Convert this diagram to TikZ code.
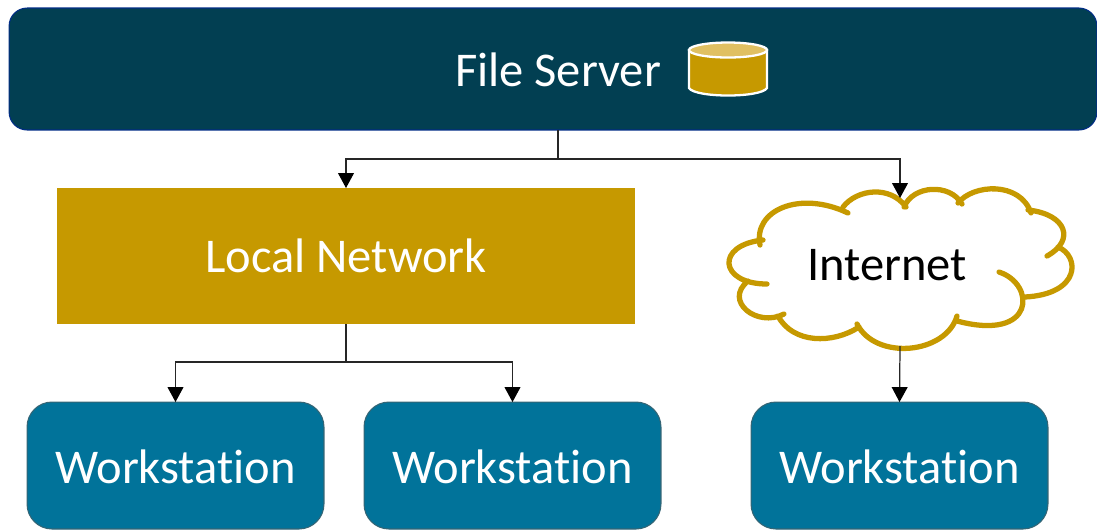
\documentclass[tikz,border=0pt]{standalone}
\usepackage{xcolor}
\usepackage{fontspec}
\setmainfont[RawFeature={-liga;-clig;-dlig}]{Carlito}
\usetikzlibrary{arrows.meta}
\definecolor{serverblue}{HTML}{023F52}
\definecolor{netgold}{HTML}{C69900}
\definecolor{lightgold}{HTML}{E0C062}
\definecolor{stationblue}{HTML}{01739A}
\begin{document}
\begin{tikzpicture}[x=0.02cm, y=-0.02cm]
      \tikzstyle{label} = [font=\fontsize{27.6}{30}\selectfont, inner sep=0pt]
      \tikzstyle{server} = [rectangle, rounded corners=0.36cm, draw=serverblue!70!blue, fill=serverblue, line width=0.6pt, minimum width=21.76cm, minimum height=2.44cm, outer sep=0pt]
      \tikzstyle{network} = [rectangle, fill=netgold, text=white, font=\fontsize{27.6}{30}\selectfont, minimum width=11.56cm, minimum height=2.72cm, outer sep=0pt]
      \tikzstyle{station} = [rectangle, rounded corners=0.5cm, draw=serverblue!80, fill=stationblue, text=white, font=\fontsize{27.6}{30}\selectfont, text height=21pt, line width=0.6pt, minimum width=5.94cm, minimum height=2.54cm, outer sep=0pt]
      \tikzstyle{edge} = [-{Triangle[length=8.5pt, width=9pt, black]}, line width=0.7pt, black!85]
      \useasboundingbox (0,0) rectangle (1097,529);
      \node[server] (server) at (553,69) {};
      \node[label, text=white] (servertext) at (558,70) {File Server};
      \node[network] (local) at (346,256) {Local Network};
      \node[station] (station1) at (175.5,465.5) {Workstation};
      \node[station] (station2) at (512.5,465.5) {Workstation};
      \node[station] (station3) at (899.5,465.5) {Workstation};
      % disk icon
      \draw[fill=netgold, draw=white, line width=1.3pt] (689,50) -- (689,88) .. controls (695,98) and (761,98) .. (767,88) -- (767,50) -- cycle;
      \draw[fill=lightgold, draw=white, line width=1.3pt] (728,50) ellipse [x radius=39, y radius=7.5];
      % cloud
      \draw[netgold, line width=3pt, line cap=round]
        (760,245) .. controls (753,210) and (800,190) .. (848,213)
        (843,207) .. controls (857,189) and (890,185) .. (906,207)
        (904,207) .. controls (913,185) and (950,183) .. (962,204)
        (958,203) .. controls (973,184) and (1020,181) .. (1031,213)
        (1028,210) .. controls (1066,214) and (1076,240) .. (1047,256)
        (1058,247) .. controls (1080,256) and (1081,294) .. (1025,297)
        (999,272) .. controls (1036,284) and (1036,342) .. (957,321)
        (957,316) .. controls (946,354) and (876,361) .. (857,324)
        (859,327) .. controls (833,344) and (793,344) .. (778,316)
        (784,314) .. controls (757,328) and (723,301) .. (748,281)
        (767,284) .. controls (719,284) and (715,245) .. (763,240);
      \node[label] (internet) at (887,265) {Internet};
      \coordinate (cloudtop) at (900,198);
      \coordinate (cloudbottom) at (900,346);
      \coordinate (serversplit) at (servertext |- 0,159);
      \coordinate (localsplit) at (346,362);
      \draw[line width=0.7pt, black!85] (servertext |- server.south) to (serversplit);
      \draw[edge] (serversplit) -| (local.north);
      \draw[edge] (serversplit) -| (cloudtop);
      \draw[line width=0.7pt, black!85] (local.south) to (localsplit);
      \draw[edge] (localsplit) -| (station1.north);
      \draw[edge] (localsplit) -| (station2.north);
      \draw[edge] (cloudbottom) to (station3.north);
    \end{tikzpicture}
\end{document}
